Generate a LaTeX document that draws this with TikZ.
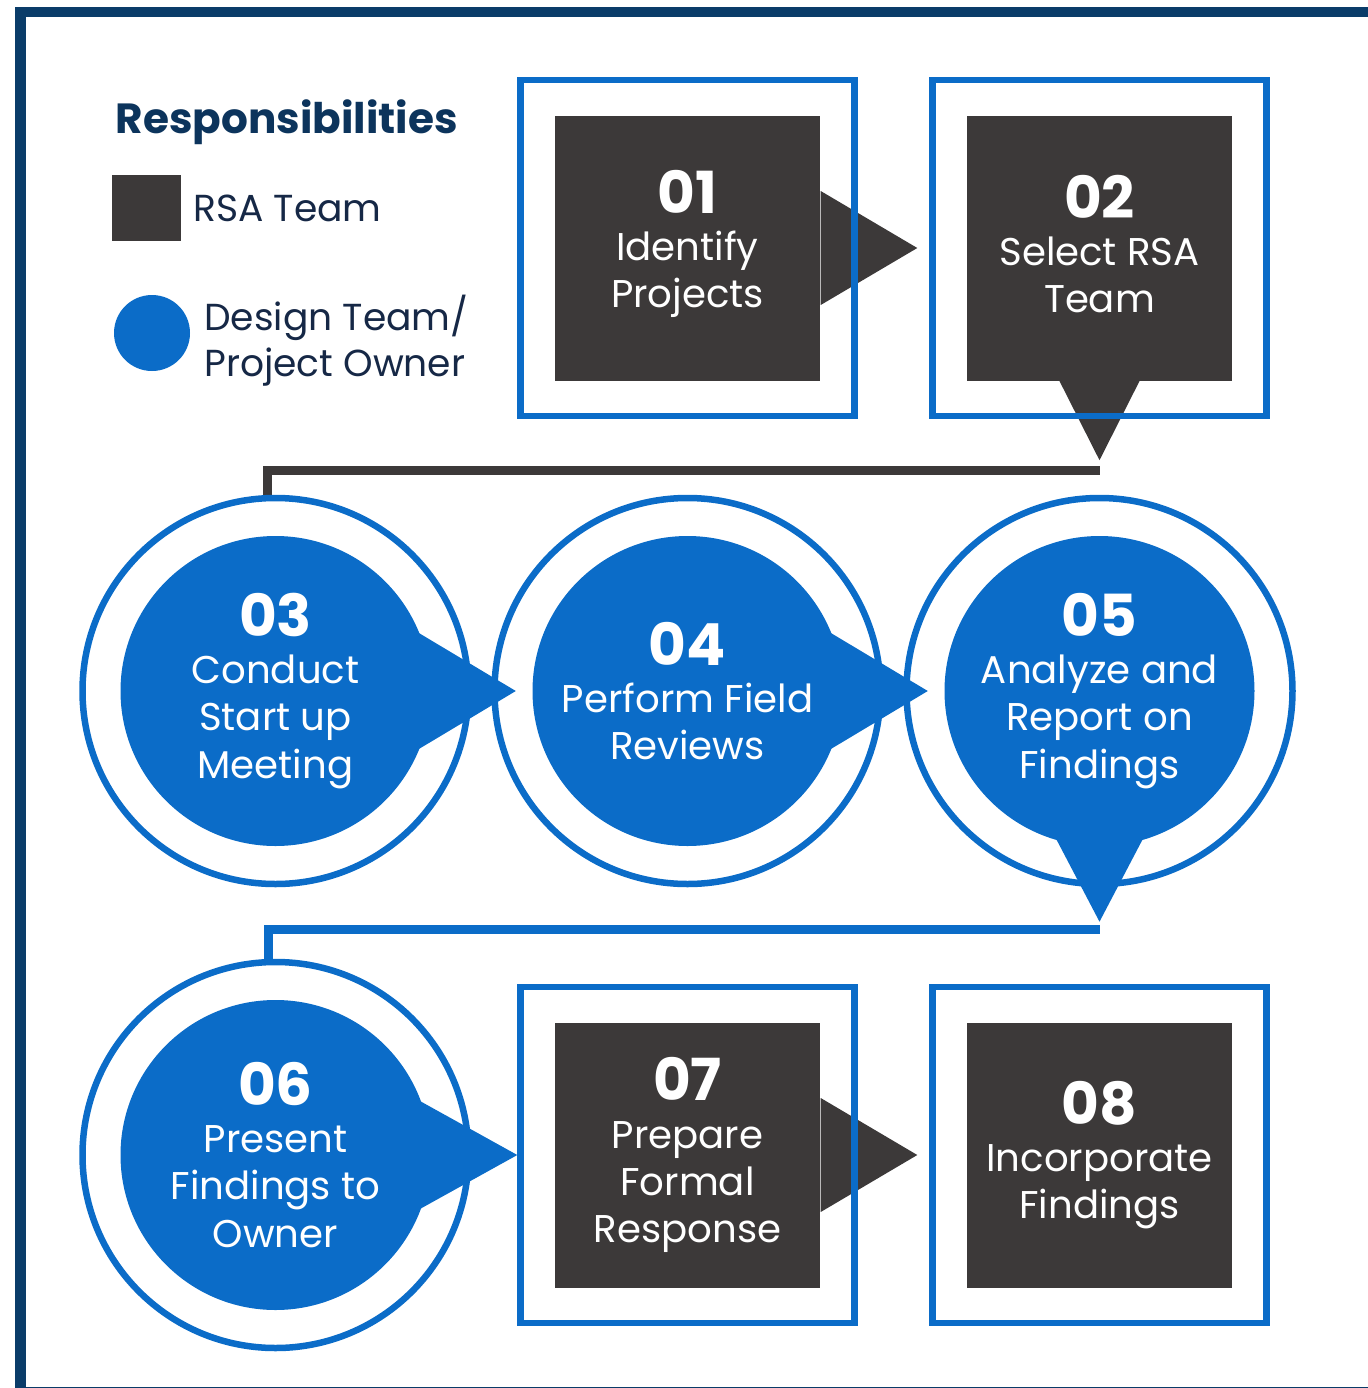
\documentclass[tikz,border=0pt]{standalone}
\usepackage{fontspec}
\setmainfont{Poppins}
\usepackage{tikz}
\usetikzlibrary{positioning}
\definecolor{rsadark}{RGB}{60,57,57}
\definecolor{rsablue}{RGB}{11,108,200}
\definecolor{rsanavy}{RGB}{10,60,105}
\definecolor{rsatitle}{RGB}{12,52,92}
\definecolor{rsakey}{RGB}{22,40,70}
\tikzset{
  node distance=4.12cm,
  rsabox/.style={fill=rsadark, minimum size=2.65cm, inner sep=0pt},
  rsaframe/.style={draw=rsablue, line width=0.065cm, minimum width=3.34cm,
    minimum height=3.36cm},
  dtdisc/.style={circle, fill=rsablue, minimum size=3.1cm, inner sep=0pt},
  dtring/.style={circle, draw=rsablue, line width=0.065cm, minimum size=3.86cm},
  steptext/.style={text=white, align=center, inner sep=0pt,
    font=\fontsize{11}{13.4}\selectfont},
  darkline/.style={draw=rsadark, line width=0.09cm},
  blueline/.style={draw=rsablue, line width=0.085cm},
  keytext/.style={text=rsakey, inner sep=0pt, align=left,
    font=\fontsize{10.7}{13}\selectfont},
}
\newcommand{\stepnum}[1]{{\fontsize{16.5}{13.4}\selectfont\bfseries #1}\\}

\begin{document}
\begin{tikzpicture}
  \useasboundingbox (0,0) rectangle (13.67,-13.88);
  \draw[rsanavy, line width=0.1cm] (0.205,-0.12) rectangle (14.5,-13.915);

  % legend
  \node[anchor=base west, inner sep=0pt, text=rsatitle,
        font=\fontsize{12}{13}\selectfont\bfseries] (title) at (1.15,-1.33) {Responsibilities};
  \node[fill=rsadark, minimum width=0.69cm, minimum height=0.66cm, inner sep=0pt] (keybox) at (1.465,-2.08) {};
  \node[keytext, right=0.11cm of keybox] (keyrsa) {RSA Team};
  \node[circle, fill=rsablue, minimum size=0.76cm, inner sep=0pt] (keydisc) at (1.52,-3.33) {};
  \node[keytext, right=0.13cm of keydisc, yshift=-0.08cm] (keydt) {Design Team/\\Project Owner};

  % steps
  \node[rsabox] (s01) at (6.875,-2.48) {};
  \node[rsabox, right of=s01] (s02) {};
  \node[dtdisc, below of=s01, node distance=4.43cm] (c04) {};
  \node[dtdisc, left of=c04] (c03) {};
  \node[dtdisc, right of=c04] (c05) {};
  \node[rsabox, below of=c04, node distance=4.64cm] (s07) {};
  \node[dtdisc, left of=s07] (c06) {};
  \node[rsabox, right of=s07] (s08) {};

  % pointers
  \fill[rsadark] ([yshift=0.57cm]s01.east) -- ([xshift=-0.49cm]s02.west) -- ([yshift=-0.57cm]s01.east) -- cycle;
  \fill[rsadark] ([xshift=-0.45cm,yshift=0.1cm]s02.south) -- ([yshift=-0.79cm]s02.south)
    -- ([xshift=0.45cm,yshift=0.1cm]s02.south) -- cycle;
  \fill[rsablue] ([xshift=1.3cm,yshift=0.66cm]c03.center) -- ([xshift=-0.16cm]c04.west)
    -- ([xshift=1.3cm,yshift=-0.66cm]c03.center) -- cycle;
  \fill[rsablue] ([xshift=1.3cm,yshift=0.66cm]c04.center) -- ([xshift=-0.16cm]c05.west)
    -- ([xshift=1.3cm,yshift=-0.66cm]c04.center) -- cycle;
  \fill[rsablue] ([xshift=-0.58cm,yshift=-1.2cm]c05.center) -- ([yshift=-0.75cm]c05.south)
    -- ([xshift=0.58cm,yshift=-1.2cm]c05.center) -- cycle;
  \fill[rsablue] ([xshift=1.3cm,yshift=0.62cm]c06.center) -- ([xshift=-0.37cm]s07.west)
    -- ([xshift=1.3cm,yshift=-0.62cm]c06.center) -- cycle;
  \fill[rsadark] ([yshift=0.57cm]s07.east) -- ([xshift=-0.49cm]s08.west) -- ([yshift=-0.57cm]s07.east) -- cycle;

  % row links
  \draw[darkline] ([yshift=-0.89cm]s02.south) -| ([xshift=-0.08cm,yshift=0.38cm]c03.north);
  \draw[blueline] ([yshift=-0.83cm]c05.south) -| ([xshift=-0.07cm,yshift=0.38cm]c06.north);

  % frames and rings
  \node[rsaframe] (f01) at (s01) {};
  \node[rsaframe] (f02) at (s02) {};
  \node[rsaframe] (f07) at (s07) {};
  \node[rsaframe] (f08) at (s08) {};
  \node[dtring] (r03) at (c03) {};
  \node[dtring] (r04) at (c04) {};
  \node[dtring] (r05) at (c05) {};
  \node[dtring] (r06) at (c06) {};

  % labels
  \node[steptext] (t01) at ([yshift=0.04cm]s01) {\stepnum{01}Identify\\Projects};
  \node[steptext] (t02) at ([yshift=0.04cm]s02) {\stepnum{02}Select RSA\\Team};
  \node[steptext] (t03) at (c03) {\stepnum{03}Conduct\\Start up\\Meeting};
  \node[steptext] (t04) at (c04) {\stepnum{04}Perform Field\\Reviews};
  \node[steptext] (t05) at (c05) {\stepnum{05}Analyze and\\Report on\\Findings};
  \node[steptext] (t06) at (c06) {\stepnum{06}Present\\Findings to\\Owner};
  \node[steptext] (t07) at (s07) {\stepnum{07}Prepare\\Formal\\Response};
  \node[steptext] (t08) at (s08) {\stepnum{08}Incorporate\\Findings};
\end{tikzpicture}
\end{document}
